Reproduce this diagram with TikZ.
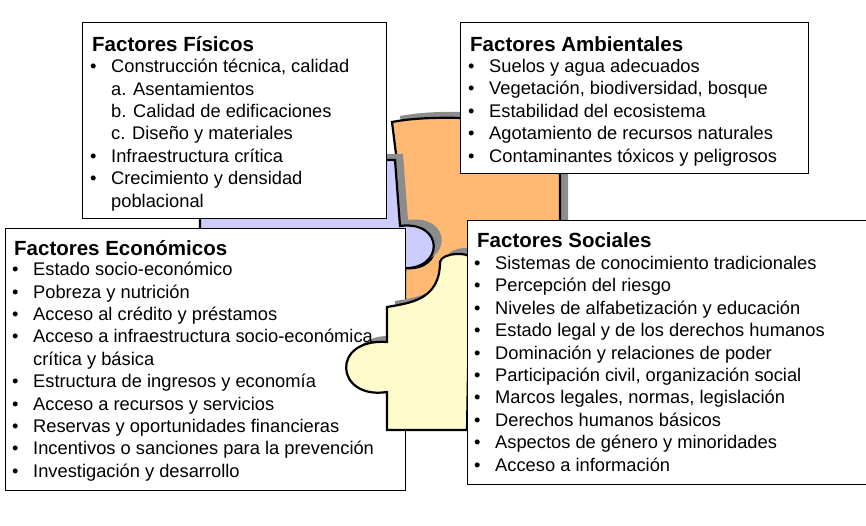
\documentclass[tikz,border=0pt]{standalone}
\usepackage{fontspec}
\setmainfont{Liberation Sans}
\begin{document}
\newcommand{\bi}{\makebox[21pt][l]{\textbullet}}
\newcommand{\ind}{\hspace*{21pt}}
\begin{tikzpicture}[x=1pt,y=-1pt,
  box/.style={draw=black,line width=0.8pt},
  piece/.style={draw=black,line width=2.2pt},
  shad/.style={fill=black!45},
  head/.style={anchor=base west,inner sep=0pt,font=\fontsize{20.5}{22}\selectfont\bfseries},
  lst/.style={anchor=north west,inner sep=0pt,align=left,font=\fontsize{18.3}{22.4}\selectfont}]
\useasboundingbox (0,0) rectangle (866,526);
% puzzle pieces
\def\orange{(392,122) .. controls (430,115) and (470,118) .. (560,122) -- (560,240) .. controls (560,300) and (540,320) .. (470,320) -- (405,318) -- (405,268) .. controls (445,272) and (445,222) .. (405,226) -- cycle}
\def\lav{(200,160) -- (395,160) -- (400,226) .. controls (445,220) and (445,272) .. (400,268) -- (395,300) -- (200,300) -- cycle}
\def\yel{(440,262) .. controls (442,252) and (470,252) .. (470,258) -- (467,430) -- (387,430) -- (387,392) .. controls (335,400) and (330,338) .. (387,342) -- (387,307) .. controls (410,303) and (440,300) .. (440,262) -- cycle}
\fill[shad,xshift=8,yshift=6] \orange;
\draw[piece,fill=orange!55!white] \orange;
\fill[shad,xshift=8,yshift=6] \lav;
\draw[piece,fill=blue!20!white] \lav;
% boxes
\node[box,fill=white,minimum width=304,minimum height=196,anchor=north west] (fis) at (82,22) {};
\node[box,fill=white,minimum width=348,minimum height=151,anchor=north west] (amb) at (460,22) {};
\node[box,fill=white,minimum width=400,minimum height=262,anchor=north west] (eco) at (5,228) {};
\fill[shad,xshift=8,yshift=6] \yel;
\draw[piece,fill=yellow!20!white] \yel;
\node[box,fill=white,minimum width=400,minimum height=264,anchor=north west] (soc) at (467,220) {};
% texts
\node[head] (fish) at (92,52) {Factores Físicos};
\node[lst] (fisl) at (90,59) {\bi Construcción técnica, calidad\\ \ind a. Asentamientos\\ \ind b. Calidad de edificaciones\\ \ind c. Diseño y materiales\\ \bi Infraestructura  crítica\\ \bi Crecimiento y densidad\\ \ind poblacional};
\node[head] (ambh) at (470,52) {Factores Ambientales};
\node[lst] (ambl) at (468,59) {\bi Suelos y agua adecuados\\ \bi Vegetación, biodiversidad, bosque\\ \bi Estabilidad del ecosistema\\ \bi Agotamiento de recursos naturales\\ \bi Contaminantes tóxicos y peligrosos};
\node[head] (ecoh) at (14,255) {Factores Económicos};
\node[lst] (ecol) at (12,262) {\bi Estado socio-económico\\ \bi Pobreza y nutrición\\ \bi Acceso al crédito y préstamos\\ \bi Acceso a infraestructura socio-económica\\ \ind crítica y básica\\ \bi Estructura de ingresos y economía\\ \bi Acceso a recursos y servicios\\ \bi Reservas y oportunidades financieras\\ \bi Incentivos o sanciones para la prevención\\ \bi Investigación y desarrollo};
\node[head] (soch) at (477,248) {Factores Sociales};
\node[lst] (socl) at (474,256) {\bi Sistemas de conocimiento tradicionales\\ \bi Percepción del riesgo\\ \bi Niveles de alfabetización y educación\\ \bi Estado legal y de los derechos humanos\\ \bi Dominación y relaciones de poder\\ \bi Participación civil, organización social\\ \bi Marcos legales, normas, legislación\\ \bi Derechos humanos básicos\\ \bi Aspectos de género y minoridades\\ \bi Acceso a información};
\end{tikzpicture}
\end{document}
